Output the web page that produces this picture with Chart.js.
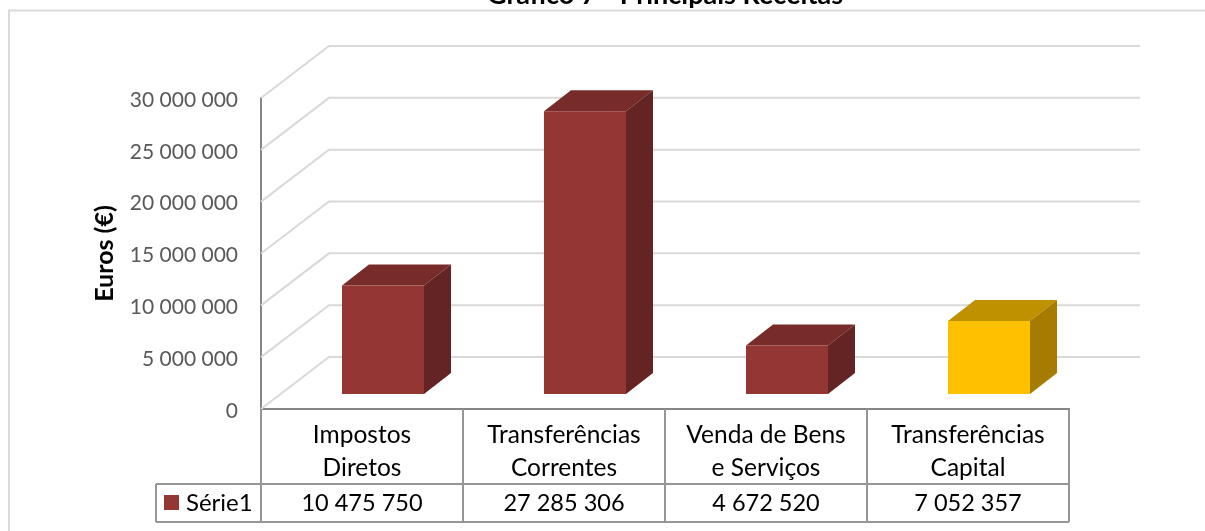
<!DOCTYPE html>
<html>
<head>
<meta charset="utf-8">
<style>
  html, body { margin: 0; padding: 0; background: #fff; overflow: hidden; }
  canvas { display: block; }
</style>
<script src="https://cdn.jsdelivr.net/npm/chart.js@4"></script>
</head>
<body>
<canvas id="chart" width="1205" height="531"></canvas>
<script>
const categories = [["Impostos", "Diretos"], ["Transferências", "Correntes"], ["Venda de Bens", "e Serviços"], ["Transferências", "Capital"]];
const values = [10475750, 27285306, 4672520, 7052357];
const frontColors = ["#943634", "#943634", "#943634", "#ffc000"];
const sideColors = ["#632423", "#632423", "#632423", "#a67c00"];
const topColors = ["#772c2a", "#772c2a", "#772c2a", "#bf9000"];
const seriesName = "Série1";
const chartTitle = "Gráfico 7 - Principais Receitas";
const yTitle = "Euros (€)";

const FONT = "Lato, 'Open Sans', sans-serif";
const fmt = n => String(n).replace(/\B(?=(\d{3})+(?!\d))/g, " ");

/* -------- 3D look: walls behind the plot, sides of the bars -------- */
const wall = { dx: 68, dy: -52, right: 1140 };
const bar3d = { shiftX: 21, shiftY: -15, dx: 27, dy: -21 };

const walls = {
  id: "walls",
  beforeDatasetsDraw(chart) {
    const { ctx, scales: { y }, chartArea: a } = chart;
    ctx.save();
    ctx.strokeStyle = "#d9d9d9";
    ctx.lineWidth = 2;
    for (const t of y.ticks) {
      const py = y.getPixelForValue(t.value);
      ctx.beginPath();
      ctx.moveTo(a.left, py);
      ctx.lineTo(a.left + wall.dx, py + wall.dy);
      ctx.lineTo(wall.right, py + wall.dy);
      ctx.stroke();
    }
    ctx.restore();
    // bars get moved back into the depth of the floor
    ctx.save();
    ctx.translate(bar3d.shiftX, bar3d.shiftY);
    chart.getDatasetMeta(0).data.forEach((b, i) => {
      const l = b.x - b.width / 2, r = b.x + b.width / 2;
      ctx.fillStyle = topColors[i];
      ctx.beginPath();
      ctx.moveTo(l, b.y);
      ctx.lineTo(l + bar3d.dx, b.y + bar3d.dy);
      ctx.lineTo(r + bar3d.dx, b.y + bar3d.dy);
      ctx.lineTo(r, b.y);
      ctx.closePath();
      ctx.fill();
      ctx.fillStyle = sideColors[i];
      ctx.beginPath();
      ctx.moveTo(r, b.y);
      ctx.lineTo(r + bar3d.dx, b.y + bar3d.dy);
      ctx.lineTo(r + bar3d.dx, b.base + bar3d.dy);
      ctx.lineTo(r, b.base);
      ctx.closePath();
      ctx.fill();
    });
  },
  afterDatasetsDraw(chart) {
    chart.ctx.restore();
  }
};

/* -------- Data table under the axis -------- */
const dataTable = {
  id: "dataTable",
  afterDraw(chart) {
    const { ctx, scales: { x }, chartArea: a } = chart;
    const rowTop = 484, rowBottom = 522, keyLeft = 156;
    const step = x.width / categories.length;
    ctx.save();
    ctx.strokeStyle = "#969696";
    ctx.lineWidth = 2;
    ctx.beginPath();
    for (let i = 0; i <= categories.length; i++) {
      ctx.moveTo(a.left + i * step, a.bottom);
      ctx.lineTo(a.left + i * step, rowBottom);
    }
    ctx.moveTo(keyLeft, rowTop);
    ctx.lineTo(a.right, rowTop);
    ctx.moveTo(keyLeft, rowBottom);
    ctx.lineTo(a.right, rowBottom);
    ctx.moveTo(keyLeft, rowTop);
    ctx.lineTo(keyLeft, rowBottom);
    ctx.stroke();

    ctx.fillStyle = "#000";
    ctx.textBaseline = "middle";
    ctx.textAlign = "center";
    ctx.font = "23.5px " + FONT;
    values.forEach((v, i) => ctx.fillText(fmt(v), x.getPixelForValue(i), 503));
    ctx.textAlign = "left";
    ctx.font = "24px " + FONT;
    ctx.fillText(seriesName, 186, 503);
    ctx.fillStyle = frontColors[0];
    ctx.fillRect(164, 495, 15, 15);
    ctx.restore();
  }
};

/* -------- Outer frame of the chart (only top and left are in view) -------- */
const frame = {
  id: "frame",
  beforeDraw(chart) {
    const { ctx, width, height } = chart;
    ctx.save();
    ctx.strokeStyle = "#d9d9d9";
    ctx.lineWidth = 2;
    ctx.beginPath();
    ctx.moveTo(9, height);
    ctx.lineTo(9, 10.5);
    ctx.lineTo(width, 10.5);
    ctx.stroke();
    ctx.restore();
  }
};

new Chart(document.getElementById("chart"), {
  type: "bar",
  data: {
    labels: categories,
    datasets: [{
      label: seriesName,
      data: values,
      backgroundColor: frontColors,
      barPercentage: 0.406,
      categoryPercentage: 1
    }]
  },
  options: {
    responsive: false,
    animation: false,
    layout: { padding: { left: 0, right: 136, top: 0, bottom: 47 } },
    plugins: {
      legend: { display: false },
      tooltip: { enabled: false },
      title: {
        display: true,
        text: chartTitle,
        fullSize: false,
        color: "#000",
        font: { family: FONT, size: 27, weight: "bold" },
        padding: { top: -21, bottom: 86.6 }
      }
    },
    scales: {
      x: {
        afterFit(s) { s.height = 75; },
        grid: { display: false, drawTicks: false },
        border: { color: "#868686", width: 2 },
        ticks: {
          color: "#000",
          font: { family: FONT, size: 24.5, lineHeight: 1.347 },
          padding: 10,
          maxRotation: 0,
          autoSkip: false
        }
      },
      y: {
        min: 0,
        max: 30000000,
        afterFit(s) { s.width = 261; },
        grid: { display: false, drawTicks: false },
        border: { color: "#868686", width: 2 },
        title: {
          display: true,
          text: yTitle,
          color: "#000",
          font: { family: FONT, size: 25, weight: "bold" },
          padding: { top: 90, bottom: 0 }
        },
        ticks: {
          color: "#595959",
          font: { family: FONT, size: 21 },
          padding: 23,
          labelOffset: 2,
          stepSize: 5000000,
          callback: v => fmt(v)
        }
      }
    }
  },
  plugins: [frame, walls, dataTable]
});
</script>
</body>
</html>
